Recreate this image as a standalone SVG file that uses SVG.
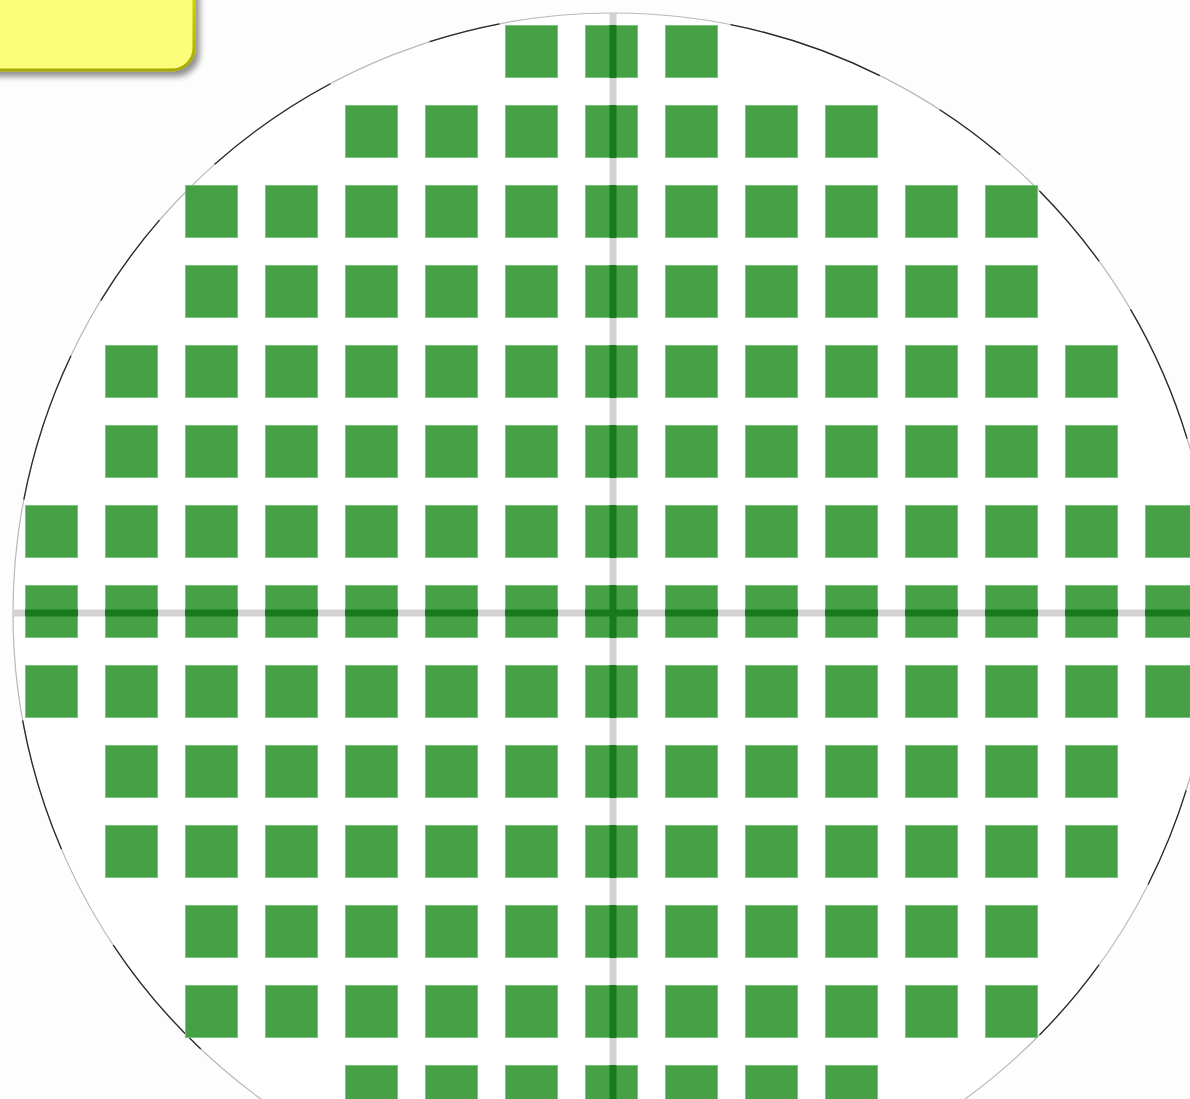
<svg xmlns="http://www.w3.org/2000/svg" width="1190" height="1099" viewBox="0 0 1190 1099">
  <style>
    .die { fill: #46a046; stroke: #7cc27c; stroke-width: 1; }
    .axis { stroke: #d2d2d2; stroke-width: 7; fill: none; }
    .axis-on { stroke: #177a1b; stroke-width: 7; fill: none; stroke-dasharray: 53 27; }
    .wafer { fill: #ffffff; stroke: #b8b8b8; stroke-width: 1.2; }
    .wafer-dark { fill: none; stroke: #2a2a2a; stroke-width: 1.3; stroke-dasharray: 0 17.2 9.7 9 8.8 88.7 13 10.4 12.9 21.2 14.5 6 9.5 7.5 13.5 10.3 6.9 22.2 15.1 6.6 7.2 5.1 8.8 5.5 13.5 16.9; }
  </style>
  <defs>
    <filter id="shadow" x="-20%" y="-20%" width="150%" height="160%">
      <feGaussianBlur in="SourceAlpha" stdDeviation="3"/>
      <feOffset dx="4" dy="5" result="b"/>
      <feComponentTransfer><feFuncA type="linear" slope="0.45"/></feComponentTransfer>
      <feMerge><feMergeNode/><feMergeNode in="SourceGraphic"/></feMerge>
    </filter>
    <linearGradient id="ybord" x1="0" y1="0" x2="0" y2="1">
      <stop offset="0" stop-color="#e6e600"/>
      <stop offset="1" stop-color="#a8a800"/>
    </linearGradient>
  </defs>
  <rect width="1190" height="1099" fill="#fdfdfd"/>

  <g id="wafer">
    <circle class="wafer" cx="613" cy="613" r="600"/>
    <circle class="wafer-dark" cx="613" cy="613" r="600" pathLength="360"/>
  </g>

  <g id="axes-under">
    <line class="axis" x1="613" y1="13" x2="613" y2="1213"/>
    <line class="axis" x1="13" y1="613" x2="1213" y2="613"/>
  </g>

  <g id="dies">
    <!-- row 0 -->
    <rect class="die" x="505.5" y="25.5" width="52" height="52"/>
    <rect class="die" x="585.5" y="25.5" width="52" height="52"/>
    <rect class="die" x="665.5" y="25.5" width="52" height="52"/>
    <!-- row 1 -->
    <rect class="die" x="345.5" y="105.5" width="52" height="52"/>
    <rect class="die" x="425.5" y="105.5" width="52" height="52"/>
    <rect class="die" x="505.5" y="105.5" width="52" height="52"/>
    <rect class="die" x="585.5" y="105.5" width="52" height="52"/>
    <rect class="die" x="665.5" y="105.5" width="52" height="52"/>
    <rect class="die" x="745.5" y="105.5" width="52" height="52"/>
    <rect class="die" x="825.5" y="105.5" width="52" height="52"/>
    <!-- row 2 -->
    <rect class="die" x="185.5" y="185.5" width="52" height="52"/>
    <rect class="die" x="265.5" y="185.5" width="52" height="52"/>
    <rect class="die" x="345.5" y="185.5" width="52" height="52"/>
    <rect class="die" x="425.5" y="185.5" width="52" height="52"/>
    <rect class="die" x="505.5" y="185.5" width="52" height="52"/>
    <rect class="die" x="585.5" y="185.5" width="52" height="52"/>
    <rect class="die" x="665.5" y="185.5" width="52" height="52"/>
    <rect class="die" x="745.5" y="185.5" width="52" height="52"/>
    <rect class="die" x="825.5" y="185.5" width="52" height="52"/>
    <rect class="die" x="905.5" y="185.5" width="52" height="52"/>
    <rect class="die" x="985.5" y="185.5" width="52" height="52"/>
    <!-- row 3 -->
    <rect class="die" x="185.5" y="265.5" width="52" height="52"/>
    <rect class="die" x="265.5" y="265.5" width="52" height="52"/>
    <rect class="die" x="345.5" y="265.5" width="52" height="52"/>
    <rect class="die" x="425.5" y="265.5" width="52" height="52"/>
    <rect class="die" x="505.5" y="265.5" width="52" height="52"/>
    <rect class="die" x="585.5" y="265.5" width="52" height="52"/>
    <rect class="die" x="665.5" y="265.5" width="52" height="52"/>
    <rect class="die" x="745.5" y="265.5" width="52" height="52"/>
    <rect class="die" x="825.5" y="265.5" width="52" height="52"/>
    <rect class="die" x="905.5" y="265.5" width="52" height="52"/>
    <rect class="die" x="985.5" y="265.5" width="52" height="52"/>
    <!-- row 4 -->
    <rect class="die" x="105.5" y="345.5" width="52" height="52"/>
    <rect class="die" x="185.5" y="345.5" width="52" height="52"/>
    <rect class="die" x="265.5" y="345.5" width="52" height="52"/>
    <rect class="die" x="345.5" y="345.5" width="52" height="52"/>
    <rect class="die" x="425.5" y="345.5" width="52" height="52"/>
    <rect class="die" x="505.5" y="345.5" width="52" height="52"/>
    <rect class="die" x="585.5" y="345.5" width="52" height="52"/>
    <rect class="die" x="665.5" y="345.5" width="52" height="52"/>
    <rect class="die" x="745.5" y="345.5" width="52" height="52"/>
    <rect class="die" x="825.5" y="345.5" width="52" height="52"/>
    <rect class="die" x="905.5" y="345.5" width="52" height="52"/>
    <rect class="die" x="985.5" y="345.5" width="52" height="52"/>
    <rect class="die" x="1065.5" y="345.5" width="52" height="52"/>
    <!-- row 5 -->
    <rect class="die" x="105.5" y="425.5" width="52" height="52"/>
    <rect class="die" x="185.5" y="425.5" width="52" height="52"/>
    <rect class="die" x="265.5" y="425.5" width="52" height="52"/>
    <rect class="die" x="345.5" y="425.5" width="52" height="52"/>
    <rect class="die" x="425.5" y="425.5" width="52" height="52"/>
    <rect class="die" x="505.5" y="425.5" width="52" height="52"/>
    <rect class="die" x="585.5" y="425.5" width="52" height="52"/>
    <rect class="die" x="665.5" y="425.5" width="52" height="52"/>
    <rect class="die" x="745.5" y="425.5" width="52" height="52"/>
    <rect class="die" x="825.5" y="425.5" width="52" height="52"/>
    <rect class="die" x="905.5" y="425.5" width="52" height="52"/>
    <rect class="die" x="985.5" y="425.5" width="52" height="52"/>
    <rect class="die" x="1065.5" y="425.5" width="52" height="52"/>
    <!-- row 6 -->
    <rect class="die" x="25.5" y="505.5" width="52" height="52"/>
    <rect class="die" x="105.5" y="505.5" width="52" height="52"/>
    <rect class="die" x="185.5" y="505.5" width="52" height="52"/>
    <rect class="die" x="265.5" y="505.5" width="52" height="52"/>
    <rect class="die" x="345.5" y="505.5" width="52" height="52"/>
    <rect class="die" x="425.5" y="505.5" width="52" height="52"/>
    <rect class="die" x="505.5" y="505.5" width="52" height="52"/>
    <rect class="die" x="585.5" y="505.5" width="52" height="52"/>
    <rect class="die" x="665.5" y="505.5" width="52" height="52"/>
    <rect class="die" x="745.5" y="505.5" width="52" height="52"/>
    <rect class="die" x="825.5" y="505.5" width="52" height="52"/>
    <rect class="die" x="905.5" y="505.5" width="52" height="52"/>
    <rect class="die" x="985.5" y="505.5" width="52" height="52"/>
    <rect class="die" x="1065.5" y="505.5" width="52" height="52"/>
    <rect class="die" x="1145.5" y="505.5" width="52" height="52"/>
    <!-- row 7 -->
    <rect class="die" x="25.5" y="585.5" width="52" height="52"/>
    <rect class="die" x="105.5" y="585.5" width="52" height="52"/>
    <rect class="die" x="185.5" y="585.5" width="52" height="52"/>
    <rect class="die" x="265.5" y="585.5" width="52" height="52"/>
    <rect class="die" x="345.5" y="585.5" width="52" height="52"/>
    <rect class="die" x="425.5" y="585.5" width="52" height="52"/>
    <rect class="die" x="505.5" y="585.5" width="52" height="52"/>
    <rect class="die" x="585.5" y="585.5" width="52" height="52"/>
    <rect class="die" x="665.5" y="585.5" width="52" height="52"/>
    <rect class="die" x="745.5" y="585.5" width="52" height="52"/>
    <rect class="die" x="825.5" y="585.5" width="52" height="52"/>
    <rect class="die" x="905.5" y="585.5" width="52" height="52"/>
    <rect class="die" x="985.5" y="585.5" width="52" height="52"/>
    <rect class="die" x="1065.5" y="585.5" width="52" height="52"/>
    <rect class="die" x="1145.5" y="585.5" width="52" height="52"/>
    <!-- row 8 -->
    <rect class="die" x="25.5" y="665.5" width="52" height="52"/>
    <rect class="die" x="105.5" y="665.5" width="52" height="52"/>
    <rect class="die" x="185.5" y="665.5" width="52" height="52"/>
    <rect class="die" x="265.5" y="665.5" width="52" height="52"/>
    <rect class="die" x="345.5" y="665.5" width="52" height="52"/>
    <rect class="die" x="425.5" y="665.5" width="52" height="52"/>
    <rect class="die" x="505.5" y="665.5" width="52" height="52"/>
    <rect class="die" x="585.5" y="665.5" width="52" height="52"/>
    <rect class="die" x="665.5" y="665.5" width="52" height="52"/>
    <rect class="die" x="745.5" y="665.5" width="52" height="52"/>
    <rect class="die" x="825.5" y="665.5" width="52" height="52"/>
    <rect class="die" x="905.5" y="665.5" width="52" height="52"/>
    <rect class="die" x="985.5" y="665.5" width="52" height="52"/>
    <rect class="die" x="1065.5" y="665.5" width="52" height="52"/>
    <rect class="die" x="1145.5" y="665.5" width="52" height="52"/>
    <!-- row 9 -->
    <rect class="die" x="105.5" y="745.5" width="52" height="52"/>
    <rect class="die" x="185.5" y="745.5" width="52" height="52"/>
    <rect class="die" x="265.5" y="745.5" width="52" height="52"/>
    <rect class="die" x="345.5" y="745.5" width="52" height="52"/>
    <rect class="die" x="425.5" y="745.5" width="52" height="52"/>
    <rect class="die" x="505.5" y="745.5" width="52" height="52"/>
    <rect class="die" x="585.5" y="745.5" width="52" height="52"/>
    <rect class="die" x="665.5" y="745.5" width="52" height="52"/>
    <rect class="die" x="745.5" y="745.5" width="52" height="52"/>
    <rect class="die" x="825.5" y="745.5" width="52" height="52"/>
    <rect class="die" x="905.5" y="745.5" width="52" height="52"/>
    <rect class="die" x="985.5" y="745.5" width="52" height="52"/>
    <rect class="die" x="1065.5" y="745.5" width="52" height="52"/>
    <!-- row 10 -->
    <rect class="die" x="105.5" y="825.5" width="52" height="52"/>
    <rect class="die" x="185.5" y="825.5" width="52" height="52"/>
    <rect class="die" x="265.5" y="825.5" width="52" height="52"/>
    <rect class="die" x="345.5" y="825.5" width="52" height="52"/>
    <rect class="die" x="425.5" y="825.5" width="52" height="52"/>
    <rect class="die" x="505.5" y="825.5" width="52" height="52"/>
    <rect class="die" x="585.5" y="825.5" width="52" height="52"/>
    <rect class="die" x="665.5" y="825.5" width="52" height="52"/>
    <rect class="die" x="745.5" y="825.5" width="52" height="52"/>
    <rect class="die" x="825.5" y="825.5" width="52" height="52"/>
    <rect class="die" x="905.5" y="825.5" width="52" height="52"/>
    <rect class="die" x="985.5" y="825.5" width="52" height="52"/>
    <rect class="die" x="1065.5" y="825.5" width="52" height="52"/>
    <!-- row 11 -->
    <rect class="die" x="185.5" y="905.5" width="52" height="52"/>
    <rect class="die" x="265.5" y="905.5" width="52" height="52"/>
    <rect class="die" x="345.5" y="905.5" width="52" height="52"/>
    <rect class="die" x="425.5" y="905.5" width="52" height="52"/>
    <rect class="die" x="505.5" y="905.5" width="52" height="52"/>
    <rect class="die" x="585.5" y="905.5" width="52" height="52"/>
    <rect class="die" x="665.5" y="905.5" width="52" height="52"/>
    <rect class="die" x="745.5" y="905.5" width="52" height="52"/>
    <rect class="die" x="825.5" y="905.5" width="52" height="52"/>
    <rect class="die" x="905.5" y="905.5" width="52" height="52"/>
    <rect class="die" x="985.5" y="905.5" width="52" height="52"/>
    <!-- row 12 -->
    <rect class="die" x="185.5" y="985.5" width="52" height="52"/>
    <rect class="die" x="265.5" y="985.5" width="52" height="52"/>
    <rect class="die" x="345.5" y="985.5" width="52" height="52"/>
    <rect class="die" x="425.5" y="985.5" width="52" height="52"/>
    <rect class="die" x="505.5" y="985.5" width="52" height="52"/>
    <rect class="die" x="585.5" y="985.5" width="52" height="52"/>
    <rect class="die" x="665.5" y="985.5" width="52" height="52"/>
    <rect class="die" x="745.5" y="985.5" width="52" height="52"/>
    <rect class="die" x="825.5" y="985.5" width="52" height="52"/>
    <rect class="die" x="905.5" y="985.5" width="52" height="52"/>
    <rect class="die" x="985.5" y="985.5" width="52" height="52"/>
    <!-- row 13 -->
    <rect class="die" x="345.5" y="1065.5" width="52" height="52"/>
    <rect class="die" x="425.5" y="1065.5" width="52" height="52"/>
    <rect class="die" x="505.5" y="1065.5" width="52" height="52"/>
    <rect class="die" x="585.5" y="1065.5" width="52" height="52"/>
    <rect class="die" x="665.5" y="1065.5" width="52" height="52"/>
    <rect class="die" x="745.5" y="1065.5" width="52" height="52"/>
    <rect class="die" x="825.5" y="1065.5" width="52" height="52"/>
  </g>

  <g id="axes-over">
    <line class="axis-on" x1="613" y1="25" x2="613" y2="1213"/>
    <line class="axis-on" x1="25" y1="613" x2="1213" y2="613"/>
  </g>

  <g id="label-box">
    <rect x="-40" y="-40" width="234" height="110" rx="22" ry="22" fill="#fdfd7c" stroke="url(#ybord)" stroke-width="3" filter="url(#shadow)"/>
  </g>
</svg>
